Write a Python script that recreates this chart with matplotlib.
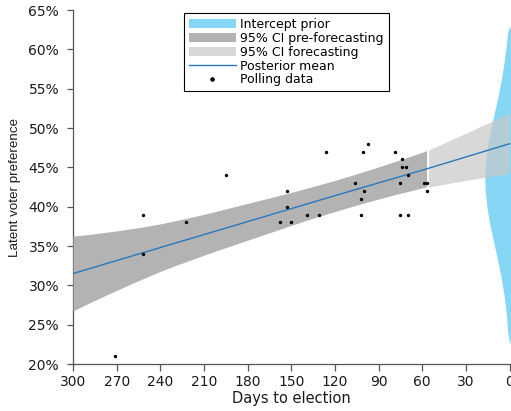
import numpy as np
import matplotlib
matplotlib.use("Agg")
import matplotlib.pyplot as plt
from matplotlib.patches import Patch
from matplotlib.lines import Line2D

# Polls: days before the election and share (%)
poll_days = [271, 252, 252, 222, 195, 158, 153, 153, 150, 139, 131, 126, 106, 102,
             102, 100, 97, 101, 79, 75, 75, 74, 74, 71, 70, 70, 59, 57, 57]
poll_pct = [21, 34, 39, 38, 44, 38, 42, 40, 38, 39, 39, 47, 43, 41,
            39, 42, 48, 47, 47, 43, 39, 46, 45, 45, 44, 39, 43, 43, 42]

# Posterior mean of the latent preference
mean_days = [300, 240, 180, 120, 57, 0]
mean_pct = [31.5, 34.8, 38.1, 41.4, 44.8, 48.0]

# 95% interval while polls are available
fit_days = [300, 290, 280, 270, 260, 250, 240, 230, 220, 210, 200, 190, 180,
            170, 160, 150, 140, 130, 120, 110, 100, 90, 80, 70, 57]
fit_upper = [36.25, 36.45, 36.68, 36.92, 37.19, 37.49, 37.81, 38.19, 38.60, 39.03,
             39.48, 39.95, 40.42, 40.88, 41.35, 41.82, 42.31, 42.82, 43.34, 43.89,
             44.46, 45.05, 45.66, 46.28, 47.12]
fit_lower = [26.75, 27.65, 28.52, 29.36, 30.19, 30.99, 31.77, 32.49, 33.16, 33.83,
             34.48, 35.11, 35.74, 36.36, 36.99, 37.62, 38.23, 38.82, 39.38, 39.93,
             40.46, 40.97, 41.46, 41.92, 42.52]

# 95% interval for the forecast period
fc_days = [55.6, 28, 0]
fc_upper = [47.2, 49.5, 51.9]
fc_lower = [42.5, 43.4, 44.2]

# Intercept prior density (half width in days) by preference level
prior_pct = [22.5, 24, 26, 28, 30, 32, 34, 36, 38, 40, 42, 44, 46, 48, 50, 52, 54, 56, 58, 60, 62, 63]
prior_width = [0, 1.2, 2.0, 3.2, 4.8, 6.8, 9.1, 11.5, 13.8, 15.6, 16.7, 17.0, 16.3,
               14.8, 12.7, 10.3, 7.9, 5.8, 4.0, 2.6, 1.4, 0]

c_prior = "#86d6f5"
c_dark = "#b3b3b3"
c_light = "#c8c8c8"
c_line = "#2878bd"
c_axis = "#555555"
c_text = "#1a1a1a"

fig = plt.figure(figsize=(5.11, 4.11), dpi=100)
ax = fig.add_axes([73 / 511, 47 / 411, 436.5 / 511, 354 / 411])

pw = np.array(prior_width)
ax.fill_betweenx(prior_pct, -pw, pw, color=c_prior, lw=0, zorder=1)
ax.fill_between(fc_days, fc_lower, fc_upper, color=c_light, alpha=0.7, lw=0, zorder=2)
ax.fill_between(fit_days, fit_lower, fit_upper, color=c_dark, lw=0, zorder=3)
ax.plot(mean_days, mean_pct, color=c_line, lw=1.0, zorder=4)
ax.scatter(poll_days, poll_pct, s=6, color="black", lw=0, zorder=5)

ax.set_xlim(300, 0)
ax.set_ylim(20, 65)
ax.set_xticks(range(300, -1, -30))
yt = list(range(20, 66, 5))
ax.set_yticks(yt)
ax.set_yticklabels([f"{v}%" for v in yt])

for s in ["top", "right"]:
    ax.spines[s].set_visible(False)
for s in ["left", "bottom"]:
    ax.spines[s].set_color(c_axis)
    ax.spines[s].set_linewidth(0.9)
ax.tick_params(axis="both", colors=c_axis, labelcolor=c_text, labelsize=10, width=0.9)
ax.tick_params(axis="x", length=5, pad=3)
ax.tick_params(axis="y", length=4.5, pad=5.5)

ax.set_xlabel("Days to election", fontsize=10.5, color=c_text)
ax.xaxis.set_label_coords(0.5, -0.077)
ax.set_ylabel("Latent voter preference", fontsize=9.6, color=c_text, family="Liberation Sans")
ax.yaxis.set_label_coords(-0.12, 0.5)

handles = [
    Patch(facecolor=c_prior, edgecolor="none"),
    Patch(facecolor=c_dark, edgecolor="none"),
    Patch(facecolor=c_light, alpha=0.7, edgecolor="none"),
    Line2D([], [], color=c_line, lw=1.0),
    Line2D([], [], color="black", marker="o", ms=2.3, lw=0),
]
labels = ["Intercept prior", "95% CI pre-forecasting", "95% CI forecasting",
          "Posterior mean", "Polling data"]
leg = ax.legend(handles, labels, loc="upper left", bbox_to_anchor=(184 / 511, 1 - 13 / 411),
                bbox_transform=fig.transFigure, borderaxespad=0, fontsize=9,
                handlelength=3.75, handleheight=0.75, handletextpad=0.35, labelspacing=0.07,
                borderpad=0.4, fancybox=False, framealpha=1)
leg.get_frame().set_edgecolor("black")
leg.get_frame().set_linewidth(0.8)

fig.savefig("out.png", dpi=100)
